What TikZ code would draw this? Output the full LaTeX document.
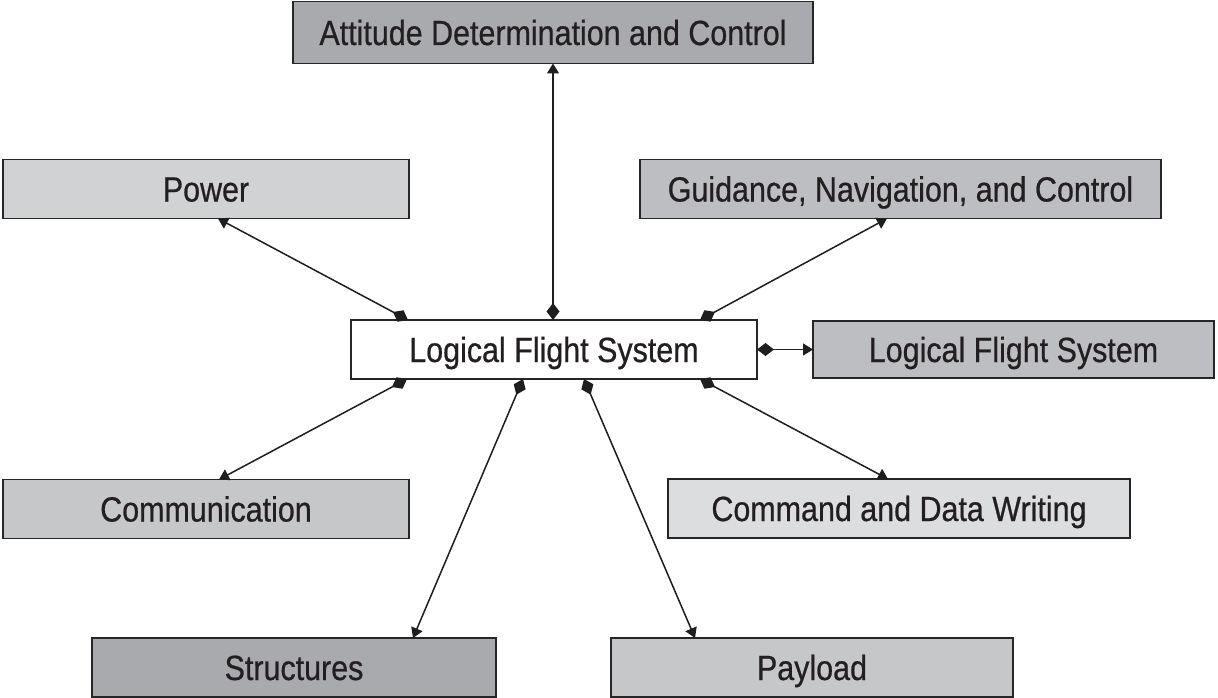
\documentclass[tikz,border=0pt]{standalone}
\usepackage{fontspec}
\setmainfont{Liberation Sans}[FakeStretch=0.87,FakeBold=0.6]
\usetikzlibrary{arrows.meta,calc}

\definecolor{boxline}{HTML}{262626}
\definecolor{ink}{HTML}{231F20}
\definecolor{linkc}{HTML}{1E1E1E}
\definecolor{fillA}{HTML}{A9AAAE}
\definecolor{fillB}{HTML}{BDBEC1}
\definecolor{fillC}{HTML}{C6C7C9}
\definecolor{fillD}{HTML}{D1D2D4}
\definecolor{fillE}{HTML}{DCDDDF}

\tikzset{
  box/.style={draw=boxline, line width=1.8pt, inner sep=0pt, outer sep=0pt,
    font=\fontsize{35}{42}\selectfont, text=ink,
    text height=25pt, text depth=0pt, minimum height=59pt},
  link/.style={line width=1.5pt, draw=linkc,
    {Diamond[length=17pt,width=13pt]}-{Triangle[length=10pt,width=12pt]}},
}

\begin{document}
\begin{tikzpicture}[x=1pt,y=-1pt]
  \useasboundingbox (0,0) rectangle (1218,698);

  % subsystem boxes
  \node[box, fill=white, minimum width=406pt] (lfs) at (554,349.5) {Logical Flight System};
  \node[box, fill=fillA, minimum width=520pt, minimum height=62pt] (adc) at (553,32.5) {Attitude Determination and Control};
  \node[box, fill=fillD, minimum width=406pt] (power) at (206,189) {Power};
  \node[box, fill=fillB, minimum width=521pt] (gnc) at (900.5,189) {Guidance, Navigation, and Control};
  \node[box, fill=fillB, minimum width=401pt, minimum height=57pt] (lfsb) at (1013.5,349.5) {Logical Flight System};
  \node[box, fill=fillC, minimum width=406pt] (comm) at (206,509) {Communication};
  \node[box, fill=fillE, minimum width=462pt] (cdw) at (899,508.5) {Command and Data Writing};
  \node[box, fill=fillA, minimum width=404pt] (struct) at (294,667.5) {Structures};
  \node[box, fill=fillC, minimum width=402pt] (payload) at (812,667.5) {Payload};

  % connectors from the central flight system
  \draw[link] ($(lfs.north)+(-1,0)$) -- (adc.south);
  \draw[link] ($(lfs.north west)+(57,0)$) -- ($(power.south west)+(215,0)$);
  \draw[link] ($(lfs.north east)+(-57,0)$) -- ($(gnc.south west)+(247,0)$);
  \draw[link] (lfs.east) -- (lfsb.west);
  \draw[link] ($(lfs.south west)+(56,0)$) -- ($(comm.north west)+(216,0)$);
  \draw[link] ($(lfs.south east)+(-57,0)$) -- ($(cdw.north west)+(220,0)$);
  \draw[link] ($(lfs.south west)+(172,0)$) -- ($(struct.north west)+(321,0)$);
  \draw[link] ($(lfs.south west)+(233,0)$) -- ($(payload.north west)+(84,0)$);
\end{tikzpicture}
\end{document}
